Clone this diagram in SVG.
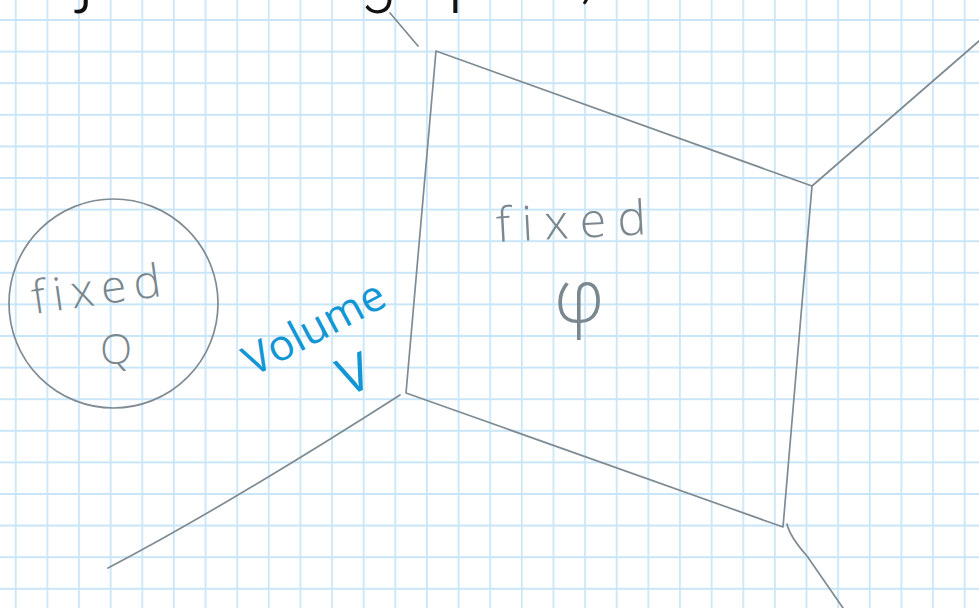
<svg xmlns="http://www.w3.org/2000/svg" width="979" height="608" viewBox="0 0 979 608">
  <defs>
    <pattern id="grid" x="0" y="4.2" width="31.63" height="31.6" patternUnits="userSpaceOnUse">
      <path d="M15.7,0 V31.6 M0,15.8 H31.63" stroke="#c9e6f8" stroke-width="1.8" fill="none"/>
    </pattern>
    <style>
      .ink { fill: none; stroke: #7f8b93; stroke-width: 1.7; stroke-linecap: round; stroke-linejoin: round; }
      .hand { font-family: "Open Sans", "Liberation Sans", sans-serif; font-weight: 300; fill: #7a878f; font-variant-ligatures: none; }
      .blue { font-family: "Open Sans", "Liberation Sans", sans-serif; font-weight: 400; fill: #1296d4; font-variant-ligatures: none; }
      .top { font-family: Roboto, "Liberation Sans", sans-serif; font-weight: 300; fill: #111111; }
    </style>
  </defs>
  <rect width="979" height="608" fill="#ffffff"/>
  <rect width="979" height="608" fill="url(#grid)"/>

  <g id="top-text-fragments">
    <text class="top" x="78" y="-1" font-size="70">j</text>
    <text class="top" x="360" y="-1" font-size="66">g</text>
    <text class="top" x="448" y="-1" font-size="70">p</text>
    <text class="top" x="581" y="-3" font-size="60">,</text>
  </g>

  <g id="connectors">
    <path class="ink" d="M390,13 L418,46"/>
    <path class="ink" d="M812,186 L979,41"/>
    <path class="ink" d="M400,395 Q228,505 108,568"/>
    <path class="ink" d="M787,524 Q790,537 807,556 L843,608"/>
  </g>

  <g id="node-charge">
    <circle class="ink" cx="113.5" cy="303.5" r="104.5"/>
    <text class="hand" x="34" y="314" font-size="46" textLength="130" lengthAdjust="spacing" transform="rotate(-8 34 314)">fixed</text>
    <text class="hand" x="116" y="364" font-size="42" text-anchor="middle">Q</text>
  </g>

  <g id="node-potential">
    <path class="ink" d="M436,51 L812,186 L783,527 L406,393 Z"/>
    <text class="hand" x="497" y="242" font-size="48" textLength="150" lengthAdjust="spacing" transform="rotate(-3 497 242)">fixed</text>
    <text class="hand" x="579" y="322" font-size="74" text-anchor="middle">φ</text>
  </g>

  <g id="label-volume">
    <text class="blue" x="253" y="377" font-size="43" textLength="154" lengthAdjust="spacing" transform="rotate(-28 253 377)">Volume</text>
    <text class="blue" x="361" y="391" font-size="52" text-anchor="middle" transform="rotate(-22 361 391)">V</text>
  </g>
</svg>
